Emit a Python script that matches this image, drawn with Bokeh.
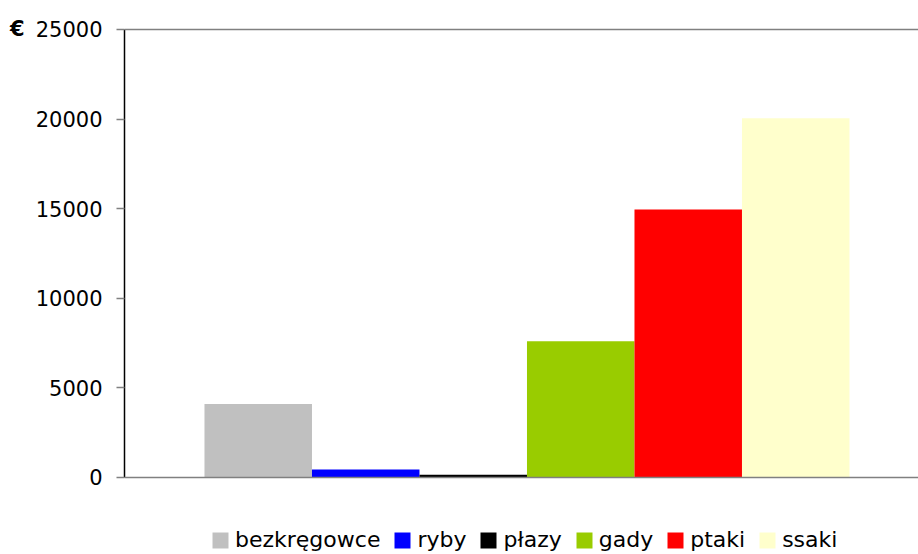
from bokeh.plotting import figure
from bokeh.models import (ColumnDataSource, FixedTicker, Span, Legend, LegendItem,
                          Range1d, LinearAxis)
from bokeh.embed import file_html
from bokeh.resources import INLINE

categories = ["bezkręgowce", "ryby", "płazy", "gady", "ptaki", "ssaki"]
values = [4100, 450, 150, 7600, 14950, 20050]
colors = ["#C0C0C0", "#0000FF", "#000000", "#99CC00", "#FF0000", "#FFFFCC"]
y_ticks = [0, 5000, 10000, 15000, 20000, 25000]
y_max = 25000
currency = "€"

FONT = "DejaVu Sans"

src = ColumnDataSource(dict(
    x=list(range(len(categories))),
    top=values,
    color=colors,
    cat=categories,
))

# frame spans the full height; axis bounds limit the drawn axis to 0..25000
p = figure(width=918, height=554, output_backend="svg", toolbar_location=None,
           x_range=Range1d(-1.244, 6.142), y_range=Range1d(-4297, 26618),
           min_border_left=124, min_border_right=0, min_border_top=0,
           min_border_bottom=0)
p.outline_line_color = None
p.grid.visible = False
p.xaxis.visible = False

r = p.vbar(x="x", top="top", width=1.0, bottom=0, color="color", line_color=None,
           source=src)

p.add_layout(Span(location=0, dimension="width", line_color="#808080", line_width=1.5))
p.add_layout(Span(location=y_max, dimension="width", line_color="#808080", line_width=1.5))

ya = p.yaxis[0]
ya.ticker = FixedTicker(ticks=y_ticks)
ya.bounds = (0, y_max)
ya.axis_line_color = "#000000"
ya.axis_line_width = 1.5
ya.major_tick_line_color = "#808080"
ya.major_tick_line_width = 1.5
ya.major_tick_out = 8
ya.major_tick_in = 0
ya.minor_tick_line_color = None
ya.major_label_text_font = FONT
ya.major_label_text_font_size = "21px"
ya.major_label_text_color = "#000000"
ya.major_label_standoff = 14

# currency unit shown left of the top tick label
ea = LinearAxis(ticker=FixedTicker(ticks=[y_max]),
                major_label_overrides={y_max: currency})
ea.axis_line_color = None
ea.major_tick_line_color = None
ea.minor_tick_line_color = None
ea.major_tick_out = 0
ea.major_tick_in = 0
ea.major_label_text_font = FONT
ea.major_label_text_font_size = "21px"
ea.major_label_text_font_style = "bold"
ea.major_label_text_color = "#000000"
ea.major_label_standoff = 8
p.add_layout(ea, "left")

legend = Legend(items=[LegendItem(label=c, renderers=[r], index=i)
                       for i, c in enumerate(categories)],
                orientation="horizontal")
legend.glyph_width = 20
legend.glyph_height = 20
legend.label_text_font = FONT
legend.label_text_font_size = "22px"
legend.label_text_color = "#000000"
legend.label_standoff = 5
legend.spacing = 12
legend.padding = 0
legend.margin = 0
legend.border_line_color = None
legend.background_fill_alpha = 0
legend.location = (86, 2)
p.add_layout(legend, "center")

open("out.html", "w").write(file_html(p, INLINE))
